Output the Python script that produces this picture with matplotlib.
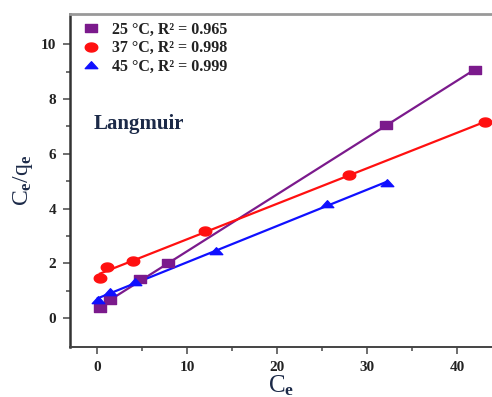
import numpy as np
import matplotlib
matplotlib.use('Agg')
import matplotlib.pyplot as plt
from matplotlib.path import Path

plt.rcParams['font.family'] = ['Liberation Serif', 'DejaVu Serif']
plt.rcParams['font.weight'] = 'bold'
plt.rcParams['mathtext.fontset'] = 'custom'
plt.rcParams['mathtext.rm'] = 'Liberation Serif:bold'
plt.rcParams['mathtext.bf'] = 'Liberation Serif:bold'
plt.rcParams['mathtext.it'] = 'Liberation Serif:bold'

# data
x_25 = [0.33, 1.4, 4.8, 7.9, 32.1, 42.0]
y_25 = [0.36, 0.66, 1.44, 2.0, 7.05, 9.05]
x_37 = [0.33, 1.1, 4.0, 12.0, 28.0, 43.1]
y_37 = [1.48, 1.88, 2.07, 3.17, 5.22, 7.15]
x_45 = [0.1, 1.4, 4.2, 13.2, 25.6, 32.2]
y_45 = [0.66, 0.94, 1.31, 2.44, 4.17, 4.93]
labels = ['25 \u00b0C, R\u00b2 = 0.965', '37 \u00b0C, R\u00b2 = 0.998', '45 \u00b0C, R\u00b2 = 0.999']
colors = ['#7b1a8c', '#ff1010', '#1010ff']

# slightly flattened markers like the reference
sq = Path([(-1, -0.6), (1, -0.6), (1, 0.6), (-1, 0.6), (-1, -0.6)], closed=True)
t = np.linspace(0, 2 * np.pi, 40)
ell = Path(np.column_stack([np.cos(t), 0.72 * np.sin(t)]), closed=True)
tri = Path([(-1, -0.5), (1, -0.5), (0, 0.6), (-1, -0.5)], closed=True)
markers = [sq, ell, tri]

fig = plt.figure(figsize=(4.92, 3.97), dpi=100)
ax = fig.add_axes([70 / 492, 50 / 397, 422 / 492, 333 / 397])

series = [(x_25, y_25), (x_37, y_37), (x_45, y_45)]
for (xs, ys), c, m, lab in zip(series, colors, markers, labels):
    xs = np.array(xs)
    ys = np.array(ys)
    k, b = np.polyfit(xs, ys, 1)
    xl = np.array([xs.min(), xs.max()])
    ax.plot(xl, k * xl + b, color=c, lw=1.6, zorder=2)
    ax.plot(xs, ys, ls='none', marker=m, ms=9, color=c, label=lab, zorder=3)

ax.set_xlim(-3, 43.9)
ax.set_ylim(-1.05, 11.1)
ax.set_xticks([0, 10, 20, 30, 40])
ax.set_xticks([5, 15, 25, 35], minor=True)
ax.set_yticks([0, 2, 4, 6, 8, 10])
ax.set_yticks([1, 3, 5, 7, 9], minor=True)
ax.tick_params(which='major', length=5, width=1.2, color='#555555', labelsize=11,
               labelcolor='#222222', pad=5)
ax.tick_params(which='minor', length=3, width=1.2, color='#555555')

ax.spines['right'].set_visible(False)
ax.spines['left'].set_color('#333333')
ax.spines['left'].set_linewidth(1.8)
ax.spines['bottom'].set_color('#444444')
ax.spines['bottom'].set_linewidth(1.4)
ax.spines['top'].set_color('#999999')
ax.spines['top'].set_linewidth(2)

ax.set_xlabel('C$_\\mathbf{e}$', fontsize=18, color='#1c2a48', labelpad=0)
ax.set_ylabel('C$_\\mathbf{e}$/q$_\\mathbf{e}$', fontsize=17, color='#1c2a48', labelpad=4)

ax.text(0.055, 0.655, 'Langmuir', transform=ax.transAxes, fontsize=15,
        color='#1c2a48', va='baseline')

ax.legend(loc='upper left', bbox_to_anchor=(0.0, 1.01), frameon=False, fontsize=11.5,
          handletextpad=0.7, labelspacing=0.15, borderaxespad=0.3, handlelength=1.2,
          labelcolor='#222222')

fig.savefig('out.png', dpi=100)
